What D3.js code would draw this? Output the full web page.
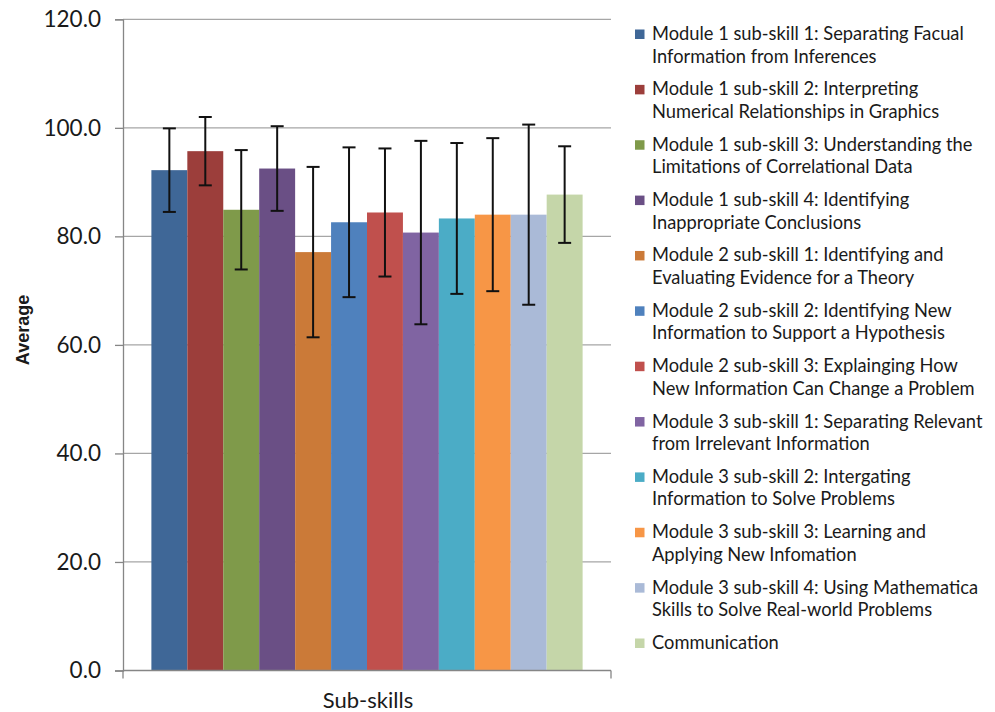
<!DOCTYPE html>
<html><head><meta charset="utf-8">
<script src="https://cdn.jsdelivr.net/npm/d3@7"></script>
<style>body{margin:0;background:#fff;} svg{display:block;}</style>
</head><body><svg id="c" width="995" height="712"></svg>
<script>
const series = [
 ["Module 1 sub-skill 1: Separating Facual", "Information from Inferences"],
 ["Module 1 sub-skill 2: Interpreting", "Numerical Relationships in Graphics"],
 ["Module 1 sub-skill 3: Understanding the", "Limitations of Correlational Data"],
 ["Module 1 sub-skill 4: Identifying", "Inappropriate Conclusions"],
 ["Module 2 sub-skill 1: Identifying and", "Evaluating Evidence for a Theory"],
 ["Module 2 sub-skill 2: Identifying New", "Information to Support a Hypothesis"],
 ["Module 2 sub-skill 3: Explainging How", "New Information Can Change a Problem"],
 ["Module 3 sub-skill 1: Separating Relevant", "from Irrelevant Information"],
 ["Module 3 sub-skill 2: Intergating", "Information to Solve Problems"],
 ["Module 3 sub-skill 3: Learning and", "Applying New Infomation"],
 ["Module 3 sub-skill 4: Using Mathematica", "Skills to Solve Real-world Problems"],
 ["Communication"]
];
const means = [92.2, 95.7, 84.9, 92.5, 77.1, 82.6, 84.4, 80.7, 83.3, 84.0, 84.0, 87.7];
const errs  = [7.7, 6.3, 11.0, 7.8, 15.7, 13.8, 11.8, 16.9, 13.9, 14.1, 16.6, 8.9];
const colors = ["#3F6797","#9C3E3B","#7F9A4A","#6A4F85","#CB7A38","#4F81BD","#C0504D","#8064A2","#4BACC6","#F79646","#AABAD7","#C5D6A9"];
const yTicks = [0, 20, 40, 60, 80, 100, 120];
const category = "Sub-skills";
const yTitle = "Average";

const svg = d3.select("#c");
const L = 123, R = 611, T = 19.3, B = 670.5;
const y = d3.scaleLinear().domain([0, 120]).range([B, T]);
const x = d3.scaleBand().domain(d3.range(series.length)).range([L, R]).paddingInner(0).paddingOuter(0.79);

// gridlines
svg.append("g").selectAll("line").data(yTicks.filter(d => d > 0)).join("line")
  .attr("x1", L).attr("x2", R).attr("y1", d => y(d)).attr("y2", d => y(d))
  .attr("stroke", "#A6A6A6").attr("stroke-width", 1.3);

// bars
svg.append("g").selectAll("rect").data(means).join("rect")
  .attr("x", (d, i) => x(i)).attr("width", x.bandwidth())
  .attr("y", d => y(d)).attr("height", d => y(0) - y(d))
  .attr("fill", (d, i) => colors[i]);

// error bars
const eg = svg.append("g").attr("stroke", "#111").attr("stroke-width", 2);
means.forEach((m, i) => {
  const cx = x(i) + x.bandwidth() / 2;
  eg.append("line").attr("x1", cx).attr("x2", cx).attr("y1", y(m + errs[i])).attr("y2", y(m - errs[i]));
  [m + errs[i], m - errs[i]].forEach(v => {
    eg.append("line").attr("x1", cx - 6.5).attr("x2", cx + 6.5).attr("y1", y(v)).attr("y2", y(v));
  });
});

// y axis
const yAxis = d3.axisLeft(y).tickValues(yTicks).tickFormat(d3.format(".1f")).tickSizeOuter(0).tickSize(8).tickPadding(14);
const ya = svg.append("g").attr("transform", `translate(${L},0)`).call(yAxis);
ya.select(".domain").attr("stroke", "#868686").attr("stroke-width", 1.3);
ya.selectAll(".tick line").attr("stroke", "#868686").attr("stroke-width", 1.3);
ya.selectAll(".tick text").attr("font-family", "Lato, 'Open Sans', sans-serif").attr("font-size", 22.5).attr("fill", "#1a1a1a");

// x axis
const xs = d3.scaleBand().domain([category]).range([L, R]);
const xAxis = d3.axisBottom(xs).tickSize(0).tickPadding(0).tickFormat("");
const xa = svg.append("g").attr("transform", `translate(0,${B})`).call(xAxis);
xa.select(".domain").remove();
xa.append("line").attr("x1", L).attr("x2", R).attr("stroke", "#868686").attr("stroke-width", 1.3);
[L, R].forEach(v => xa.append("line").attr("x1", v).attr("x2", v).attr("y1", 0).attr("y2", 8).attr("stroke", "#868686").attr("stroke-width", 1.3));
svg.append("text").attr("x", xs(category) + xs.bandwidth() / 2 + 1).attr("y", 708)
  .attr("text-anchor", "middle").attr("font-family", "Lato, 'Open Sans', sans-serif").attr("font-size", 22).attr("fill", "#1a1a1a").text(category);

// y title
svg.append("text").attr("transform", "translate(29,330) rotate(-90)").attr("text-anchor", "middle")
  .attr("font-family", "'Liberation Sans Narrow', 'Liberation Sans', Arial, sans-serif").attr("font-weight", "bold")
  .attr("font-size", 18).attr("fill", "#1a1a1a").text(yTitle);

// legend
const lg = svg.append("g");
const ly = d3.scaleLinear().domain([0, series.length - 1]).range([40, 649]);
series.forEach((s, i) => {
  const by = ly(i);
  lg.append("rect").attr("x", 635).attr("y", by - 10.5).attr("width", 9.5).attr("height", 9.5).attr("fill", colors[i]);
  const t = lg.append("text").attr("x", 652).attr("y", by).attr("font-family", "Lato, 'Open Sans', sans-serif")
    .attr("font-size", 18.3).attr("fill", "#1a1a1a");
  s.forEach((line, j) => t.append("tspan").attr("x", 652).attr("dy", j === 0 ? 0 : 22.5).text(line));
});
</script></body></html>
